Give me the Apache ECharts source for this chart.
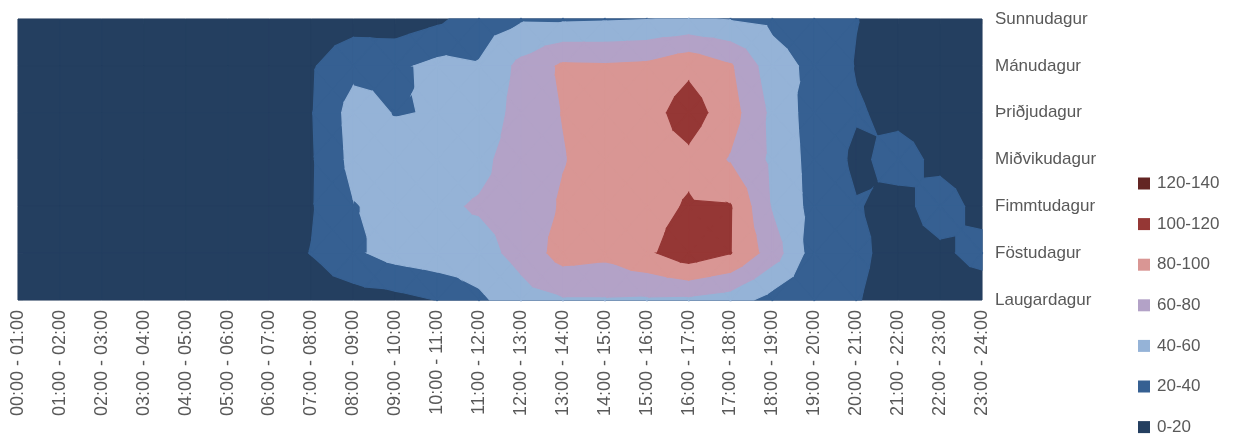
<!DOCTYPE html>
<html>
<head>
<meta charset="utf-8">
<script src="https://cdn.jsdelivr.net/npm/echarts@6/dist/echarts.min.js"></script>
<style>
  html, body { margin: 0; padding: 0; background: #fff; }
  #chart-container { width: 1235px; height: 439px; }
</style>
</head>
<body>
<div id="chart-container"></div>
<script>
var dom = document.getElementById("chart-container");
var myChart = echarts.init(dom, null, { renderer: "canvas" });

var hours = [
  "00:00 - 01:00", "01:00 - 02:00", "02:00 - 03:00", "03:00 - 04:00",
  "04:00 - 05:00", "05:00 - 06:00", "06:00 - 07:00", "07:00 - 08:00",
  "08:00 - 09:00", "09:00 - 10:00", "10:00 - 11:00", "11:00 - 12:00",
  "12:00 - 13:00", "13:00 - 14:00", "14:00 - 15:00", "15:00 - 16:00",
  "16:00 - 17:00", "17:00 - 18:00", "18:00 - 19:00", "19:00 - 20:00",
  "20:00 - 21:00", "21:00 - 22:00", "22:00 - 23:00", "23:00 - 24:00",
];
var days = ["Sunnudagur", "Mánudagur", "Þriðjudagur", "Miðvikudagur", "Fimmtudagur", "Föstudagur", "Laugardagur"];

// one value per hour
var sunnudagur   = [9, 6, 4, 3, 2, 3, 5, 8, 11, 8, 16, 30, 37.5, 37, 38, 39.5, 42, 39, 35.5, 28, 20.5, 12, 10, 8];
var manudagur    = [5, 3, 2, 2, 2, 4, 10, 18, 34, 36, 45, 41.5, 65, 83, 82, 84, 95, 82, 48, 35, 19, 14, 11, 9];
var thridjudagur = [6, 3, 2, 2, 2, 4, 11, 19, 48, 39, 41, 42, 70, 80.5, 88, 91, 110, 88, 55, 30, 21.5, 16, 13, 11];
var midvikudagur = [6, 3, 2, 2, 2, 4, 11, 18, 46, 50, 50, 54, 71, 79, 88, 90, 95, 78, 56, 32, 16.5, 26, 16, 12];
var fimmtudagur  = [6, 3, 2, 2, 2, 4, 11, 18.5, 39, 45, 56, 62, 68, 82, 88, 92, 102, 101, 58, 33, 21, 15, 27, 15];
var fostudagur   = [7, 4, 3, 2, 2, 4, 12, 20.5, 36, 48, 53, 52, 66.5, 88, 85, 96, 112, 100.5, 70, 30, 23.5, 14, 17, 25];
var laugardagur  = [9, 7, 5, 3, 2, 3, 5, 10, 11, 13.5, 20.5, 36, 52, 58, 58, 57, 56, 50, 32, 26, 21, 13, 12, 11];

var bandNames = ["0-20", "20-40", "40-60", "60-80", "80-100", "100-120", "120-140"];
var bandLows = [0, 20, 40, 60, 80, 100, 120];

var colors = ["#243F60", "#366092", "#95B3D7", "#B3A2C7", "#D99694", "#953735", "#632523"];

var values = [sunnudagur, manudagur, thridjudagur, midvikudagur, fimmtudagur, fostudagur, laugardagur];

// cells between neighbouring grid points
var cells = [];
for (var j = 0; j < days.length - 1; j++) {
  for (var i = 0; i < hours.length - 1; i++) {
    cells.push([i, j]);
  }
}

// keep the part of a triangle where value >= t
function clipAbove(poly, t) {
  var out = [];
  for (var k = 0; k < poly.length; k++) {
    var p = poly[k];
    var q = poly[(k + 1) % poly.length];
    var pin = p[2] >= t;
    var qin = q[2] >= t;
    if (pin) out.push(p);
    if (pin !== qin) {
      var f = (t - p[2]) / (q[2] - p[2]);
      out.push([p[0] + f * (q[0] - p[0]), p[1] + f * (q[1] - p[1]), t]);
    }
  }
  return out;
}

function bandRenderer(lo, color) {
  return function (params, api) {
    var i = api.value(0);
    var j = api.value(1);
    var a = [i, j, values[j][i]];
    var b = [i + 1, j, values[j][i + 1]];
    var c = [i + 1, j + 1, values[j + 1][i + 1]];
    var d = [i, j + 1, values[j + 1][i]];
    var toPx = function (p) {
      return api.coord([p[0], p[1]]);
    };
    if (lo <= 0) {
      // lowest band covers the whole cell
      return {
        type: "polygon",
        shape: { points: [a, b, c, d].map(toPx) },
        style: { fill: color, stroke: color, lineWidth: 1 },
      };
    }
    var m = [i + 0.5, j + 0.5, (a[2] + b[2] + c[2] + d[2]) / 4];
    var tris = [[a, b, m], [b, c, m], [c, d, m], [d, a, m]];
    var children = [];
    tris.forEach(function (t) {
      var poly = clipAbove(t, lo);
      if (poly.length < 3) return;
      children.push({
        type: "polygon",
        shape: { points: poly.map(toPx) },
        style: { fill: color, stroke: color, lineWidth: 1.2 },
      });
    });
    return { type: "group", children: children };
  };
}

var series = bandNames.map(function (name, k) {
  return {
    name: name,
    type: "custom",
    renderItem: bandRenderer(bandLows[k], colors[k]),
    itemStyle: { color: colors[k] },
    data: cells,
    silent: true,
    animation: false,
  };
});

var font = "'Liberation Sans', Arial, sans-serif";

var option = {
  animation: false,
  grid: {
    left: 18,
    right: 253,
    top: 19,
    bottom: 139,
    show: true,
    backgroundColor: colors[0],
    borderColor: "#d9d9d9",
    borderWidth: 1,
  },
  legend: {
    orient: "vertical",
    left: 1138,
    top: 175,
    height: 262,
    padding: 0,
    itemWidth: 12,
    itemHeight: 12,
    itemGap: 23.6,
    icon: "rect",
    selectedMode: false,
    data: bandNames.slice().reverse(),
    textStyle: { fontSize: 17, color: "#595959", fontFamily: font, padding: [0, 0, 0, 2] },
  },
  xAxis: {
    type: "value",
    min: 0,
    max: hours.length - 1,
    interval: 1,
    axisLine: { show: true, lineStyle: { color: "#d9d9d9" } },
    axisTick: { show: true, length: 5, lineStyle: { color: "#d9d9d9" } },
    splitLine: { show: false },
    axisLabel: {
      rotate: 90,
      margin: 10,
      fontSize: 18,
      color: "#595959",
      fontFamily: font,
      formatter: function (v) {
        return hours[v];
      },
    },
  },
  yAxis: {
    type: "value",
    position: "right",
    inverse: true,
    min: 0,
    max: days.length - 1,
    interval: 1,
    axisLine: { show: true, lineStyle: { color: "#d9d9d9" } },
    axisTick: { show: true, length: 5, lineStyle: { color: "#d9d9d9" } },
    splitLine: { show: false },
    axisLabel: {
      margin: 13,
      fontSize: 17,
      color: "#595959",
      fontFamily: font,
      formatter: function (v) {
        return days[v];
      },
    },
  },
  series: series,
};

myChart.setOption(option);

window.addEventListener("resize", function () {
  myChart.resize();
});
</script>
</body>
</html>
